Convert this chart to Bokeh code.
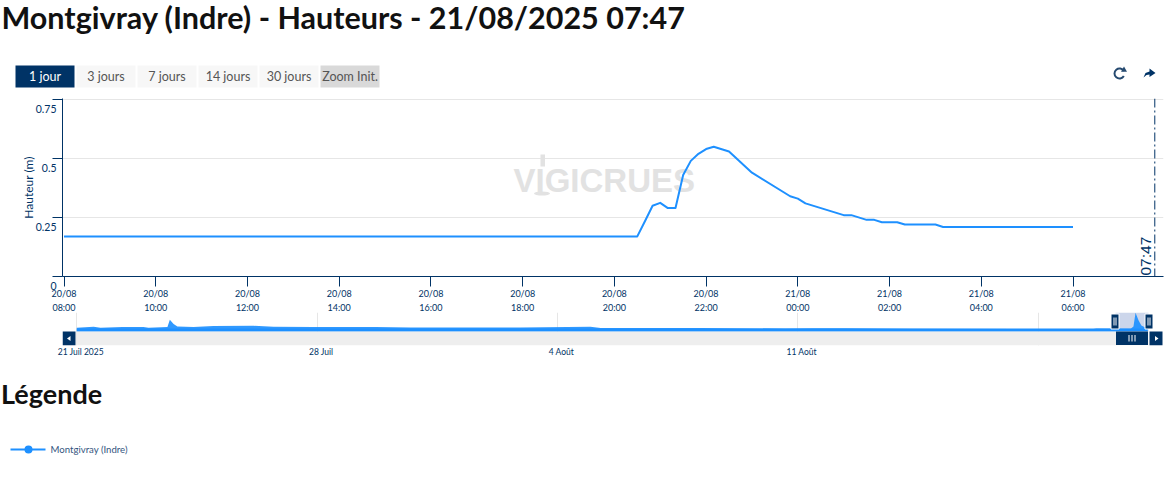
import math
import pandas as pd
from bokeh.embed import file_html
from bokeh.layouts import column
from bokeh.models import FixedTicker, Label, Range1d, Span
from bokeh.plotting import figure
from bokeh.resources import INLINE
from bokeh.core.properties import value

FONT = "Lato"
NAVY = "#003366"
BLUE = "#1E90FF"

# ---------- data ----------
title_text = "Montgivray (Indre) - Hauteurs - 21/08/2025 07:47"
buttons = ["1 jour", "3 jours", "7 jours", "14 jours", "30 jours", "Zoom Init."]
y_ticks = [0, 0.25, 0.5, 0.75]
y_tick_labels = ["0", "0.25", "0.5", "0.75"]

times = ["2025-08-20 08:00", "2025-08-20 20:30", "2025-08-20 20:40", "2025-08-20 20:50", "2025-08-20 21:00",
         "2025-08-20 21:10", "2025-08-20 21:20", "2025-08-20 21:30", "2025-08-20 21:40", "2025-08-20 21:50",
         "2025-08-20 22:00", "2025-08-20 22:10", "2025-08-20 22:30", "2025-08-20 23:00", "2025-08-20 23:50",
         "2025-08-21 00:00", "2025-08-21 00:10", "2025-08-21 01:00", "2025-08-21 01:10", "2025-08-21 01:30",
         "2025-08-21 01:40", "2025-08-21 01:50", "2025-08-21 02:10", "2025-08-21 02:20", "2025-08-21 03:00",
         "2025-08-21 03:10", "2025-08-21 06:00"]
heights = [0.17, 0.17, 0.234, 0.30, 0.312, 0.29, 0.29, 0.43, 0.49, 0.52,
           0.54, 0.55, 0.53, 0.44, 0.34,
           0.33, 0.31, 0.26, 0.26, 0.24,
           0.24, 0.23, 0.23, 0.22, 0.22,
           0.21, 0.21]
x_tick_times = ["2025-08-20 08:00", "2025-08-20 10:00", "2025-08-20 12:00", "2025-08-20 14:00", "2025-08-20 16:00",
                "2025-08-20 18:00", "2025-08-20 20:00", "2025-08-20 22:00", "2025-08-21 00:00", "2025-08-21 02:00",
                "2025-08-21 04:00", "2025-08-21 06:00"]
now_time = "2025-08-21 07:47"
now_label = "07:47"

nav_days = [0, 0.49, 0.69, 1.33, 1.94, 2.09, 2.64, 2.71, 2.82, 2.93, 3.40, 3.98, 5.15, 5.73, 6.89, 7.48, 8.71, 9.72,
            12.92, 14.96, 15.26, 18.17, 20.64, 21.45, 22.39, 24.28, 29.61, 29.7, 30.7, 30.78, 30.84, 30.93, 31.01, 31.19]
nav_vals = [0.195, 0.218, 0.195, 0.216, 0.216, 0.195, 0.211, 0.38, 0.283, 0.225, 0.214, 0.237, 0.241, 0.22, 0.211, 0.216, 0.211, 0.202,
            0.202, 0.22, 0.19, 0.19, 0.179, 0.184, 0.184, 0.172, 0.168, 0.179, 0.175, 0.225, 0.54, 0.363, 0.248, 0.175]
nav_grid_days = [0, 7, 14, 21, 28]
nav_label_days = [0, 7, 14, 21]
nav_labels = ["21 Juil 2025", "28 Juil", "4 Août", "11 Août"]
legend_label = "Montgivray (Indre)"

W = 1171
FRAME_L, FRAME_R = 62, 1163


def plain(p):
    p.outline_line_color = None
    p.background_fill_color = None
    p.border_fill_color = None
    p.frame_align = False
    return p


def pixel_figure(top, bottom):
    p = figure(width=W, height=bottom - top, x_range=Range1d(0, W), y_range=Range1d(bottom, top),
               toolbar_location=None, output_backend="svg", min_border=0, x_axis_location=None, y_axis_location=None)
    p.grid.visible = False
    return plain(p)


def txt(p, x, y, s, size, color, align="left", style="normal", font=FONT):
    p.text([x], [y], text=[s], text_font=value(font), text_font_size=size, text_color=color,
           text_align=align, text_baseline="middle", text_font_style=style)


# ---------- header ----------
h = pixel_figure(0, 91)
txt(h, 1, 16.5, title_text, "30.5px", "#111111", style="bold")
bx, bw, bstep = 15, 59, 61
for i, label in enumerate(buttons):
    fill = NAVY if i == 0 else ("#d9d9d9" if i == len(buttons) - 1 else "#f7f7f7")
    h.quad(left=[bx + i * bstep], right=[bx + i * bstep + bw], top=[65], bottom=[87], fill_color=fill, line_color=None)
    txt(h, bx + i * bstep + bw / 2, 76, label, "12.5px", "#ffffff" if i == 0 else "#555555", align="center")
# refresh icon
h.arc([1119], [73], radius=5, start_angle=math.radians(30), end_angle=math.radians(-30), direction="anticlock",
      line_color="#264a70", line_width=2)
h.scatter([1123.5], [69.5], marker="triangle", size=6, fill_color="#264a70", line_color=None)
# share icon
h.patch([1143, 1145, 1149, 1149, 1155, 1149, 1149, 1146], [77, 72.5, 71, 68, 72.5, 76.5, 74, 74.5],
        fill_color=NAVY, line_color=None)

# ---------- main chart ----------
t0 = pd.Timestamp(times[0])
hrs = [(pd.Timestamp(t) - t0).total_seconds() / 3600 for t in times]
xt = [(pd.Timestamp(t) - t0).total_seconds() / 3600 for t in x_tick_times]
now_h = (pd.Timestamp(now_time) - t0).total_seconds() / 3600
PX_H = (1072.5 - 63.5) / 22

p = figure(width=W, height=234, toolbar_location=None, output_backend="svg",
           x_range=Range1d((FRAME_L - 63.5) / PX_H, (FRAME_R - 63.5) / PX_H), y_range=Range1d(0, 0.75 + 1 / 236),
           min_border_left=FRAME_L, min_border_right=W - FRAME_R, min_border_top=17, min_border_bottom=39,
           margin=(-10, 0, 0, 0))
plain(p)
p.xgrid.visible = False
p.ygrid.grid_line_color = "#e6e6e6"
p.ygrid.ticker = FixedTicker(ticks=y_ticks)
p.xaxis.ticker = FixedTicker(ticks=xt)
p.xaxis.major_label_overrides = {x: pd.Timestamp(t).strftime("%d/%m\n%H:%M") for x, t in zip(xt, x_tick_times)}
p.yaxis.ticker = FixedTicker(ticks=y_ticks)
p.yaxis.major_label_overrides = {v: "\n" + s for v, s in zip(y_ticks, y_tick_labels)}
for ax in (p.xaxis[0], p.yaxis[0]):
    ax.axis_line_color = NAVY
    ax.major_tick_line_color = NAVY
    ax.minor_tick_line_color = None
    ax.major_tick_in = 0
    ax.major_tick_out = 10
    ax.major_label_text_color = NAVY
    ax.major_label_text_font = FONT
ax = p.xaxis[0]
ax.major_label_text_font_size = "9px"
ax.major_label_standoff = 1
ax.major_label_text_line_height = 1.3
ay = p.yaxis[0]
ay.major_label_text_font_size = "10.5px"
ay.major_label_text_line_height = 1.5
ay.major_label_standoff = -4
ay.axis_label = "Hauteur (m)"
ay.axis_label_text_font = FONT
ay.axis_label_text_font_size = "12px"
ay.axis_label_text_font_style = "normal"
ay.axis_label_text_color = NAVY
ay.axis_label_standoff = -3

p.extra_x_ranges["px"] = Range1d(FRAME_L, FRAME_R)
p.extra_y_ranges["px"] = Range1d(276, 98)
# watermark
p.text([513], [180], text=["VIGICRUES"], x_range_name="px", y_range_name="px", text_font=value("Liberation Sans"),
       text_font_style="bold", text_font_size="33px", text_color="#e2e2e2", text_baseline="middle")
p.quad(left=[540], right=[544.5], top=[154], bottom=[166], x_range_name="px", y_range_name="px",
       fill_color="#e2e2e2", line_color=None)
p.ellipse([541.5], [193], width=16, height=4, x_range_name="px", y_range_name="px", fill_color="#e2e2e2", line_color=None)

p.line(hrs, heights, line_color=BLUE, line_width=2, line_join="round")
p.add_layout(Span(location=now_h, dimension="height", line_color=NAVY, line_width=1, line_dash="9 3 2 3"))
p.add_layout(Label(x=now_h, y=0, x_offset=-9, y_offset=1, text=now_label, angle=math.pi / 2, text_font="Liberation Sans",
                   text_font_size="15.5px", text_color=NAVY, text_align="left", text_baseline="middle"))

# ---------- navigator ----------
PX_D = 34.33
ZERO_X = 76.3
Y_BASE, PX_M = 0.11, 43.4
n = figure(width=W, height=33 + 20, toolbar_location=None, output_backend="svg",
           x_range=Range1d((FRAME_L - ZERO_X) / PX_D, (FRAME_R - ZERO_X) / PX_D),
           y_range=Range1d(Y_BASE - 14 / PX_M, Y_BASE + 19 / PX_M),
           min_border_left=FRAME_L, min_border_right=W - FRAME_R, min_border_top=0, min_border_bottom=20,
           y_axis_location=None, margin=(-3, 0, 0, 0))
plain(n)
n.ygrid.visible = False
n.xgrid.ticker = FixedTicker(ticks=nav_grid_days)
n.xgrid.grid_line_color = "#e6e6e6"
lab_pos = [d + 4 / PX_D for d in nav_label_days]
nx = n.xaxis[0]
nx.ticker = FixedTicker(ticks=lab_pos)
nx.major_label_overrides = dict(zip(lab_pos, nav_labels))
nx.axis_line_color = None
nx.major_tick_line_color = None
nx.minor_tick_line_color = None
nx.major_tick_in = 0
nx.major_tick_out = 0
nx.major_label_standoff = 1
nx.major_label_text_font = FONT
nx.major_label_text_font_size = "8.5px"
nx.major_label_text_color = NAVY

n.extra_x_ranges["px"] = Range1d(FRAME_L, FRAME_R)
n.extra_y_ranges["px"] = Range1d(345, 312)
PXR = dict(x_range_name="px", y_range_name="px")
n.quad(left=[1115], right=[1148], top=[312], bottom=[331], fill_color="#ccd6eb", line_color=None, **PXR)
n.varea(x=nav_days, y1=[Y_BASE] * len(nav_days), y2=nav_vals, fill_color=BLUE, fill_alpha=0.92)
n.line(nav_days, [Y_BASE + 1.5 / PX_M] * len(nav_days), line_color=BLUE, line_width=3)
n.quad(left=[76], right=[1148], top=[331], bottom=[345], fill_color="#eeeeee", line_color=None, **PXR)
n.quad(left=[62, 1115.5, 1149], right=[75, 1147.5, 1162], top=[331, 331, 331], bottom=[345, 344.5, 345],
       fill_color=NAVY, line_color=None, **PXR)
n.patch([70, 66.5, 70], [335.5, 338, 340.5], fill_color="#ffffff", line_color=None, **PXR)
n.patch([1154.5, 1158, 1154.5], [335.5, 338, 340.5], fill_color="#ffffff", line_color=None, **PXR)
n.segment([1128.5, 1131.5, 1134.5], [334.5] * 3, [1128.5, 1131.5, 1134.5], [341] * 3, line_color="#ffffff", line_width=1, **PXR)
n.quad(left=[1110.5, 1144.5], right=[1118.5, 1152.5], top=[313.5, 313.5], bottom=[328.5, 328.5], fill_color=NAVY,
       line_color="#ffffff", line_width=1, **PXR)
n.segment([1113.5, 1115.5, 1147.5, 1149.5], [317] * 4, [1113.5, 1115.5, 1147.5, 1149.5], [325] * 4,
          line_color="#ffffff", line_width=1, **PXR)
n.add_layout(Label(x=1158, y=352, text="Highcharts 7.2.0", text_font=FONT, text_font_size="9px", text_color="#999999",
                   text_align="right", text_baseline="middle", **PXR))

# ---------- legend ----------
l = pixel_figure(365, 470)
txt(l, 0.5, 393, "Légende", "27px", "#111111", style="bold")
l.line([10, 45], [449, 449], line_color=BLUE, line_width=2)
l.scatter([28], [449], marker="circle", size=8, fill_color=BLUE, line_color=None)
txt(l, 50, 449, legend_label, "9.6px", "#335580")

root = column(h, p, n, l, spacing=0)
open("out.html", "w").write(file_html(root, INLINE))
